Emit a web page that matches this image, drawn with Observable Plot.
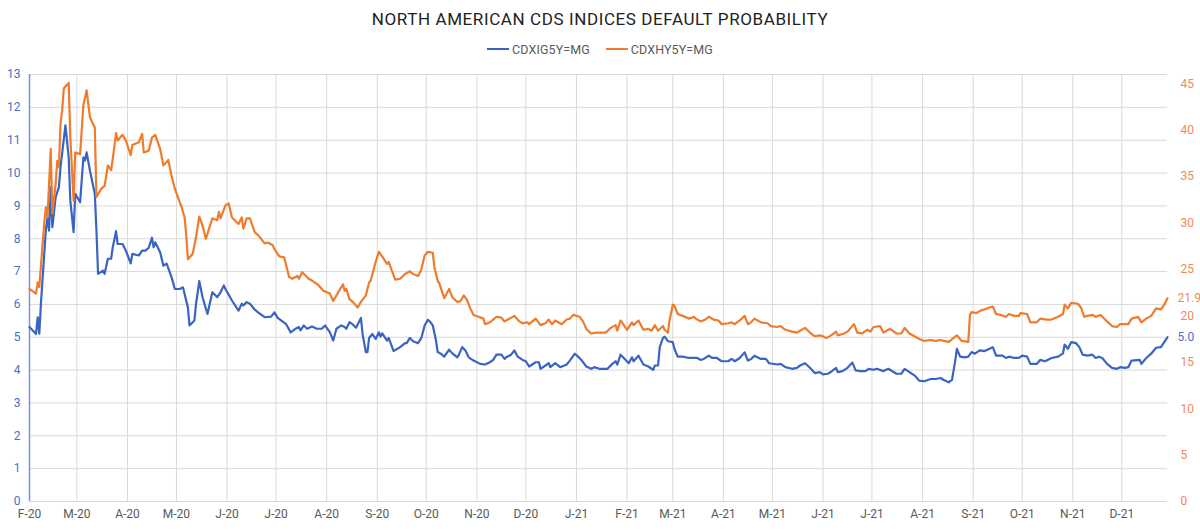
<!DOCTYPE html>
<html>
<head>
<meta charset="utf-8">
<script src="https://cdn.jsdelivr.net/npm/d3@7"></script>
<script src="https://cdn.jsdelivr.net/npm/@observablehq/plot@0.6"></script>
<style>
  body { margin: 0; background: #fff; font-family: Roboto, "DejaVu Sans", sans-serif; }
  #title { height: 36px; line-height: 38px; text-align: center; font-size: 17px; letter-spacing: 0.6px; color: #222; }
  #legend { height: 26px; display: flex; justify-content: center; align-items: center; font-size: 12.5px; color: #595959; letter-spacing: 0.1px; }
  #legend .item { display: flex; align-items: center; margin: 0 8px; }
  #legend .sw { width: 22px; height: 2px; margin-right: 3px; }
  #chart svg { display: block; }
</style>
</head>
<body>
<div id="title">NORTH AMERICAN CDS INDICES DEFAULT PROBABILITY</div>
<div id="legend"></div>
<div id="chart"></div>
<script>
// Series names and colours
const seriesNames = ["CDXIG5Y=MG", "CDXHY5Y=MG"];
const seriesColors = ["#3a64c4", "#ef7b2d"];

// Axis ranges and tick values
const xStart = "2020-02-01";
const xEnd = "2021-12-29";
const leftTicks = [0, 1, 2, 3, 4, 5, 6, 7, 8, 9, 10, 11, 12, 13];
const rightTicks = [0, 5, 10, 15, 20, 25, 30, 35, 40, 45];
const leftMax = 13;
const rightMax = 46;
const monthLetters = ["J", "F", "M", "A", "M", "J", "J", "A", "S", "O", "N", "D"];

// Investment grade index default probability (%), left axis
const igSeries = [
  ["2020-02-01",5.31],["2020-02-05",5.10],["2020-02-06",5.61],["2020-02-07",5.11],["2020-02-08",6.03],
  ["2020-02-11",8.25],["2020-02-12",8.65],["2020-02-13",8.25],["2020-02-14",9.57],["2020-02-15",8.35],
  ["2020-02-17",9.26],["2020-02-19",9.57],["2020-02-20",10.18],["2020-02-23",11.45],["2020-02-25",10.48],
  ["2020-02-26",9.16],["2020-02-28",8.20],["2020-02-29",9.37],["2020-03-03",9.11],["2020-03-05",10.48],
  ["2020-03-06",10.38],["2020-03-07",10.63],["2020-03-09",10.08],["2020-03-12",9.37],["2020-03-13",8.25],
  ["2020-03-14",6.93],["2020-03-17",7.03],["2020-03-18",6.93],["2020-03-20",7.39],["2020-03-22",7.39],
  ["2020-03-23",7.74],["2020-03-25",8.23],["2020-03-26",7.84],["2020-03-29",7.84],["2020-03-31",7.64],
  ["2020-04-03",7.25],["2020-04-04",7.54],["2020-04-08",7.49],["2020-04-10",7.64],["2020-04-12",7.64],
  ["2020-04-14",7.72],["2020-04-16",8.03],["2020-04-17",7.74],["2020-04-18",7.89],["2020-04-21",7.59],
  ["2020-04-23",7.18],["2020-04-25",7.24],["2020-04-28",6.83],["2020-04-30",6.47],["2020-05-03",6.47],
  ["2020-05-05",6.52],["2020-05-08",5.91],["2020-05-09",5.36],["2020-05-12",5.51],["2020-05-13",6.02],
  ["2020-05-15",6.71],["2020-05-17",6.22],["2020-05-20",5.71],["2020-05-23",6.37],["2020-05-26",6.22],
  ["2020-05-28",6.37],["2020-05-30",6.58],["2020-05-31",6.47],["2020-06-04",6.12],["2020-06-08",5.81],
  ["2020-06-10",6.02],["2020-06-11",5.97],["2020-06-13",6.07],["2020-06-15",6.02],["2020-06-18",5.84],
  ["2020-06-20",5.76],["2020-06-24",5.61],["2020-06-28",5.63],["2020-06-30",5.76],["2020-07-02",5.59],
  ["2020-07-07",5.41],["2020-07-10",5.15],["2020-07-13",5.26],["2020-07-15",5.31],["2020-07-16",5.21],
  ["2020-07-18",5.36],["2020-07-20",5.26],["2020-07-23",5.33],["2020-07-26",5.26],["2020-07-29",5.26],
  ["2020-07-31",5.36],["2020-08-03",5.15],["2020-08-05",4.90],["2020-08-07",5.26],["2020-08-10",5.36],
  ["2020-08-12",5.31],["2020-08-13",5.26],["2020-08-15",5.46],["2020-08-17",5.39],["2020-08-19",5.29],
  ["2020-08-22",5.59],["2020-08-23",5.10],["2020-08-25",4.55],["2020-08-26",4.55],["2020-08-27",4.98],
  ["2020-08-29",5.10],["2020-08-31",4.95],["2020-09-02",5.15],["2020-09-03",5.02],["2020-09-04",5.12],
  ["2020-09-07",4.90],["2020-09-08",4.98],["2020-09-11",4.58],["2020-09-15",4.70],["2020-09-18",4.82],
  ["2020-09-19",4.82],["2020-09-21",4.98],["2020-09-23",4.88],["2020-09-26",4.82],["2020-09-28",4.98],
  ["2020-09-30",5.36],["2020-10-02",5.53],["2020-10-03",5.49],["2020-10-05",5.36],["2020-10-07",4.90],
  ["2020-10-08",4.55],["2020-10-10",4.50],["2020-10-12",4.41],["2020-10-15",4.62],["2020-10-17",4.51],
  ["2020-10-20",4.39],["2020-10-21",4.47],["2020-10-23",4.70],["2020-10-25",4.60],["2020-10-27",4.39],
  ["2020-10-30",4.29],["2020-11-03",4.19],["2020-11-06",4.17],["2020-11-09",4.24],["2020-11-11",4.31],
  ["2020-11-13",4.47],["2020-11-16",4.47],["2020-11-18",4.34],["2020-11-19",4.39],["2020-11-22",4.47],
  ["2020-11-24",4.60],["2020-11-26",4.41],["2020-11-29",4.31],["2020-12-01",4.27],["2020-12-03",4.11],
  ["2020-12-07",4.24],["2020-12-09",4.24],["2020-12-10",4.04],["2020-12-13",4.14],["2020-12-15",4.21],
  ["2020-12-16",4.09],["2020-12-19",4.21],["2020-12-22",4.09],["2020-12-26",4.17],["2020-12-28",4.29],
  ["2020-12-31",4.50],["2021-01-02",4.41],["2021-01-04",4.31],["2021-01-07",4.11],["2021-01-10",4.04],
  ["2021-01-12",4.09],["2021-01-15",4.04],["2021-01-20",4.04],["2021-01-23",4.19],["2021-01-25",4.27],
  ["2021-01-26",4.17],["2021-01-28",4.47],["2021-01-30",4.37],["2021-02-02",4.21],["2021-02-04",4.39],
  ["2021-02-05",4.27],["2021-02-08",4.44],["2021-02-11",4.17],["2021-02-14",4.11],["2021-02-17",4.01],
  ["2021-02-18",4.14],["2021-02-20",4.14],["2021-02-21",4.70],["2021-02-23",4.98],["2021-02-24",5.02],
  ["2021-02-26",4.88],["2021-03-01",4.85],["2021-03-02",4.65],["2021-03-04",4.41],["2021-03-07",4.41],
  ["2021-03-11",4.37],["2021-03-14",4.37],["2021-03-16",4.37],["2021-03-18",4.31],["2021-03-20",4.34],
  ["2021-03-23",4.44],["2021-03-25",4.37],["2021-03-28",4.37],["2021-03-31",4.27],["2021-04-04",4.27],
  ["2021-04-06",4.34],["2021-04-08",4.27],["2021-04-11",4.37],["2021-04-14",4.54],["2021-04-16",4.29],
  ["2021-04-18",4.34],["2021-04-20",4.44],["2021-04-24",4.34],["2021-04-27",4.34],["2021-04-29",4.21],
  ["2021-05-04",4.17],["2021-05-06",4.19],["2021-05-09",4.09],["2021-05-13",4.04],["2021-05-16",4.07],
  ["2021-05-18",4.14],["2021-05-21",4.21],["2021-05-24",4.07],["2021-05-27",3.91],["2021-05-30",3.94],
  ["2021-06-01",3.87],["2021-06-04",3.89],["2021-06-06",3.95],["2021-06-09",4.07],["2021-06-10",3.94],
  ["2021-06-13",3.97],["2021-06-16",4.07],["2021-06-19",4.23],["2021-06-21",3.99],["2021-06-24",3.97],
  ["2021-06-27",3.97],["2021-06-29",4.04],["2021-07-02",4.01],["2021-07-04",4.04],["2021-07-08",3.97],
  ["2021-07-11",4.04],["2021-07-16",3.89],["2021-07-19",3.89],["2021-07-21",4.04],["2021-07-24",3.94],
  ["2021-07-26",3.87],["2021-07-27",3.84],["2021-07-30",3.68],["2021-08-02",3.66],["2021-08-06",3.73],
  ["2021-08-09",3.73],["2021-08-12",3.76],["2021-08-14",3.70],["2021-08-17",3.63],["2021-08-19",3.70],
  ["2021-08-21",4.29],["2021-08-22",4.65],["2021-08-24",4.41],["2021-08-27",4.39],["2021-08-29",4.41],
  ["2021-08-31",4.55],["2021-09-02",4.50],["2021-09-05",4.60],["2021-09-08",4.58],["2021-09-11",4.65],
  ["2021-09-13",4.70],["2021-09-15",4.44],["2021-09-19",4.44],["2021-09-21",4.37],["2021-09-23",4.41],
  ["2021-09-26",4.37],["2021-09-29",4.37],["2021-10-01",4.44],["2021-10-04",4.41],["2021-10-06",4.19],
  ["2021-10-10",4.19],["2021-10-12",4.31],["2021-10-15",4.27],["2021-10-19",4.37],["2021-10-23",4.41],
  ["2021-10-26",4.51],["2021-10-27",4.78],["2021-10-29",4.65],["2021-10-31",4.85],["2021-11-03",4.82],
  ["2021-11-05",4.70],["2021-11-07",4.47],["2021-11-10",4.44],["2021-11-13",4.47],["2021-11-15",4.37],
  ["2021-11-17",4.41],["2021-11-19",4.37],["2021-11-22",4.19],["2021-11-25",4.07],["2021-11-28",4.04],
  ["2021-11-30",4.09],["2021-12-03",4.07],["2021-12-05",4.09],["2021-12-07",4.29],["2021-12-12",4.31],
  ["2021-12-13",4.19],["2021-12-16",4.37],["2021-12-19",4.50],["2021-12-22",4.68],["2021-12-25",4.70],
  ["2021-12-27",4.85],["2021-12-29",5.00]
];

// High yield index default probability (%), right axis
const hySeries = [
  ["2020-02-01",22.9],["2020-02-05",22.4],["2020-02-06",23.6],["2020-02-07",23.1],["2020-02-10",29.9],
  ["2020-02-11",31.7],["2020-02-12",30.6],["2020-02-14",38.0],["2020-02-15",31.0],["2020-02-17",34.2],
  ["2020-02-18",36.7],["2020-02-19",36.0],["2020-02-20",40.7],["2020-02-21",42.1],["2020-02-22",44.5],
  ["2020-02-25",45.1],["2020-02-26",39.2],["2020-02-28",32.4],["2020-02-29",37.6],["2020-03-03",37.4],
  ["2020-03-05",42.7],["2020-03-07",44.3],["2020-03-09",41.4],["2020-03-12",40.3],["2020-03-13",32.8],
  ["2020-03-16",33.7],["2020-03-18",34.0],["2020-03-20",36.2],["2020-03-22",35.7],["2020-03-23",36.9],
  ["2020-03-25",39.7],["2020-03-26",38.9],["2020-03-29",39.5],["2020-03-31",38.9],["2020-04-03",37.3],
  ["2020-04-04",38.4],["2020-04-08",38.7],["2020-04-10",39.6],["2020-04-11",37.6],["2020-04-14",37.8],
  ["2020-04-16",39.2],["2020-04-18",39.5],["2020-04-21",38.0],["2020-04-23",36.2],["2020-04-26",36.8],
  ["2020-04-28",35.1],["2020-04-30",33.7],["2020-05-04",31.8],["2020-05-06",30.6],["2020-05-07",28.7],
  ["2020-05-08",26.1],["2020-05-11",26.7],["2020-05-13",28.5],["2020-05-15",30.7],["2020-05-17",29.7],
  ["2020-05-19",28.3],["2020-05-23",30.5],["2020-05-26",30.3],["2020-05-27",31.2],["2020-05-28",30.5],
  ["2020-05-31",31.9],["2020-06-02",32.1],["2020-06-04",30.6],["2020-06-08",29.9],["2020-06-10",30.6],
  ["2020-06-11",29.4],["2020-06-13",30.5],["2020-06-15",30.5],["2020-06-18",29.0],["2020-06-20",28.7],
  ["2020-06-24",27.8],["2020-06-26",27.9],["2020-06-29",27.6],["2020-06-30",27.2],["2020-07-03",26.4],
  ["2020-07-06",26.3],["2020-07-09",24.2],["2020-07-11",24.0],["2020-07-14",24.3],["2020-07-15",24.0],
  ["2020-07-17",24.7],["2020-07-21",24.0],["2020-07-23",23.8],["2020-07-27",23.3],["2020-07-30",22.7],
  ["2020-08-03",22.4],["2020-08-05",21.6],["2020-08-07",22.2],["2020-08-11",23.4],["2020-08-12",22.7],
  ["2020-08-13",22.9],["2020-08-15",21.8],["2020-08-17",21.5],["2020-08-20",20.9],["2020-08-22",21.5],
  ["2020-08-25",22.2],["2020-08-27",23.6],["2020-08-28",23.8],["2020-08-31",25.8],["2020-09-02",26.9],
  ["2020-09-04",26.4],["2020-09-07",25.6],["2020-09-08",25.8],["2020-09-12",23.9],["2020-09-15",24.0],
  ["2020-09-18",24.5],["2020-09-21",24.8],["2020-09-23",24.5],["2020-09-26",24.3],["2020-09-28",25.0],
  ["2020-09-30",26.5],["2020-10-02",26.9],["2020-10-05",26.8],["2020-10-06",25.2],["2020-10-08",23.8],
  ["2020-10-09",23.5],["2020-10-12",21.9],["2020-10-15",22.9],["2020-10-17",22.0],["2020-10-20",21.5],
  ["2020-10-22",21.6],["2020-10-24",22.2],["2020-10-26",21.7],["2020-10-28",20.8],["2020-10-30",20.1],
  ["2020-11-02",19.9],["2020-11-05",19.7],["2020-11-06",19.1],["2020-11-09",19.3],["2020-11-13",19.9],
  ["2020-11-16",19.8],["2020-11-18",19.4],["2020-11-20",19.6],["2020-11-24",20.0],["2020-11-27",19.4],
  ["2020-11-29",19.2],["2020-12-02",19.3],["2020-12-03",19.1],["2020-12-07",19.7],["2020-12-10",19.0],
  ["2020-12-13",19.2],["2020-12-15",19.6],["2020-12-17",19.1],["2020-12-19",19.5],["2020-12-23",19.1],
  ["2020-12-26",19.6],["2020-12-28",19.7],["2020-12-30",20.1],["2021-01-03",19.9],["2021-01-05",19.4],
  ["2021-01-07",18.6],["2021-01-10",18.1],["2021-01-13",18.2],["2021-01-19",18.2],["2021-01-22",18.7],
  ["2021-01-25",19.0],["2021-01-26",18.4],["2021-01-28",19.5],["2021-01-30",19.0],["2021-02-01",18.5],
  ["2021-02-04",19.3],["2021-02-05",19.0],["2021-02-08",19.5],["2021-02-11",18.5],["2021-02-14",18.6],
  ["2021-02-16",18.4],["2021-02-18",19.0],["2021-02-20",18.4],["2021-02-23",18.9],["2021-02-24",18.5],
  ["2021-02-26",18.2],["2021-02-27",19.5],["2021-03-01",21.2],["2021-03-02",21.1],["2021-03-04",20.2],
  ["2021-03-07",20.0],["2021-03-11",19.7],["2021-03-14",19.9],["2021-03-15",19.7],["2021-03-18",19.4],
  ["2021-03-21",19.6],["2021-03-23",19.9],["2021-03-26",19.6],["2021-03-29",19.5],["2021-03-31",19.1],
  ["2021-04-04",19.2],["2021-04-06",19.3],["2021-04-08",19.1],["2021-04-11",19.5],["2021-04-14",20.0],
  ["2021-04-16",19.1],["2021-04-18",19.3],["2021-04-20",19.7],["2021-04-24",19.3],["2021-04-28",19.2],
  ["2021-04-30",18.9],["2021-05-04",18.8],["2021-05-06",18.9],["2021-05-09",18.5],["2021-05-13",18.3],
  ["2021-05-16",18.2],["2021-05-18",18.4],["2021-05-21",18.7],["2021-05-24",18.2],["2021-05-27",17.8],
  ["2021-05-30",17.9],["2021-06-01",17.8],["2021-06-03",17.6],["2021-06-06",17.9],["2021-06-09",18.3],
  ["2021-06-10",17.9],["2021-06-14",18.1],["2021-06-16",18.3],["2021-06-20",19.1],["2021-06-22",18.2],
  ["2021-06-25",18.1],["2021-06-28",18.5],["2021-06-30",18.3],["2021-07-02",18.8],["2021-07-06",18.9],
  ["2021-07-08",18.2],["2021-07-12",18.6],["2021-07-16",18.1],["2021-07-19",18.1],["2021-07-21",18.7],
  ["2021-07-24",18.1],["2021-07-27",17.8],["2021-07-30",17.5],["2021-08-02",17.3],["2021-08-06",17.4],
  ["2021-08-09",17.3],["2021-08-12",17.4],["2021-08-14",17.3],["2021-08-17",17.2],["2021-08-22",17.9],
  ["2021-08-25",17.3],["2021-08-29",17.2],["2021-08-30",20.1],["2021-08-31",20.4],["2021-09-03",20.3],
  ["2021-09-06",20.6],["2021-09-08",20.7],["2021-09-11",20.9],["2021-09-13",21.0],["2021-09-15",20.2],
  ["2021-09-18",20.1],["2021-09-21",19.9],["2021-09-23",20.2],["2021-09-26",20.0],["2021-09-29",20.0],
  ["2021-09-30",20.3],["2021-10-04",20.2],["2021-10-06",19.3],["2021-10-10",19.3],["2021-10-12",19.7],
  ["2021-10-16",19.6],["2021-10-19",19.6],["2021-10-23",19.9],["2021-10-26",20.2],["2021-10-27",21.2],
  ["2021-10-29",20.8],["2021-10-31",21.4],["2021-11-04",21.3],["2021-11-06",20.9],["2021-11-08",19.9],
  ["2021-11-10",20.0],["2021-11-13",20.1],["2021-11-15",19.9],["2021-11-18",20.1],["2021-11-22",19.4],
  ["2021-11-25",18.9],["2021-11-28",18.8],["2021-11-30",19.1],["2021-12-05",19.1],["2021-12-07",19.7],
  ["2021-12-11",19.9],["2021-12-13",19.3],["2021-12-16",19.7],["2021-12-19",20.0],["2021-12-22",20.8],
  ["2021-12-25",20.7],["2021-12-27",21.2],["2021-12-29",21.9]
];

const parse = d3.utcParse("%Y-%m-%d");
const ig = igSeries.map(([d, v]) => ({date: parse(d), value: v}));
const hy = hySeries.map(([d, v]) => ({date: parse(d), value: v}));

// The high yield series shares the left scale; the right axis relabels it.
const k = leftMax / rightMax;
const x0 = parse(xStart);
const x1 = parse(xEnd);
const monthTicks = d3.utcMonth.range(x0, x1);
const monthFormat = d => monthLetters[d.getUTCMonth()] + "-" + String(d.getUTCFullYear()).slice(2);

// Legend
const legend = document.getElementById("legend");
seriesNames.forEach((name, i) => {
  const item = document.createElement("div");
  item.className = "item";
  const sw = document.createElement("span");
  sw.className = "sw";
  sw.style.background = seriesColors[i];
  const label = document.createElement("span");
  label.textContent = name;
  item.append(sw, label);
  legend.append(item);
});

const grid = "#d9d9d9";
const chart = Plot.plot({
  width: 1200,
  height: 468,
  marginTop: 12,
  marginBottom: 29,
  marginLeft: 29,
  marginRight: 33,
  style: {fontFamily: "Roboto, 'DejaVu Sans', sans-serif", fontSize: "12px", background: "transparent"},
  x: {type: "utc", domain: [x0, x1]},
  y: {domain: [0, leftMax]},
  marks: [
    Plot.gridY(leftTicks, {stroke: grid, strokeOpacity: 1, strokeWidth: 1}),
    Plot.gridX(monthTicks, {stroke: grid, strokeOpacity: 1, strokeWidth: 1}),
    Plot.axisY(leftTicks, {anchor: "left", tickSize: 0, tickPadding: 9, color: "#4a6fc8", label: null}),
    Plot.axisY(rightTicks.map(v => v * k), {
      anchor: "right", tickSize: 0, tickPadding: 13, color: "#f08a5a", label: null,
      tickFormat: d => String(Math.round(d / k))
    }),
    Plot.axisX(monthTicks, {tickSize: 0, tickPadding: 8, color: "#595959", label: null, tickFormat: monthFormat}),
    Plot.ruleX([x0], {stroke: "#7393dc", strokeWidth: 1.5}),
    Plot.lineY(ig, {x: "date", y: "value", stroke: seriesColors[0], strokeWidth: 2.2}),
    Plot.lineY(hy, {x: "date", y: d => d.value * k, stroke: seriesColors[1], strokeWidth: 2.2}),
    Plot.text([ig[ig.length - 1]], {
      x: "date", y: "value", text: d => d.value.toFixed(1),
      dx: 10, textAnchor: "start", fill: "#4a6fc8", fontSize: 12
    }),
    Plot.text([hy[hy.length - 1]], {
      x: "date", y: d => d.value * k, text: d => d.value.toFixed(1),
      dx: 10, textAnchor: "start", fill: "#f08a5a", fontSize: 12
    })
  ]
});
document.getElementById("chart").append(chart);
</script>
</body>
</html>
